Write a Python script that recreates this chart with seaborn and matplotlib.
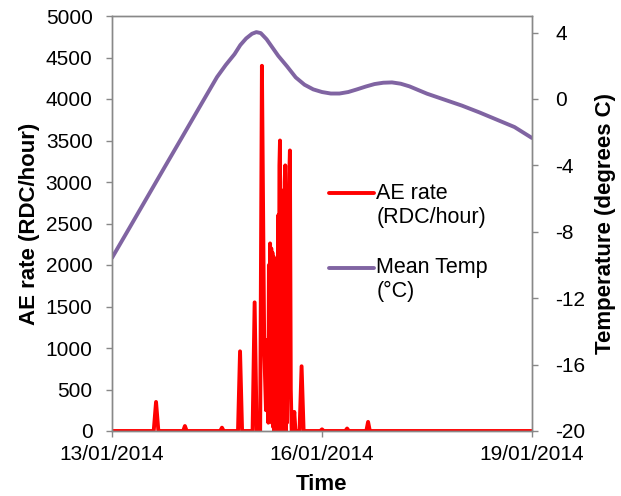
import numpy as np
import pandas as pd
import matplotlib
matplotlib.use("Agg")
import matplotlib.pyplot as plt
import matplotlib.dates as mdates
import seaborn as sns

# AE rate readings: hours after 13/01/2014 00:00 and rate (RDC/hour)
ae_hours = [0, 14.3, 15.1, 15.9, 24.4, 25.0, 25.6, 37.1, 37.7, 38.3,
            43.2, 43.9, 44.6, 48.2, 48.9, 49.6, 50.8, 51.4, 52.2, 52.8,
            53.4, 53.6, 53.8, 54.0, 54.2, 54.4, 54.6, 54.8, 55.0, 55.2,
            55.4, 55.6, 55.8, 56.0, 56.2, 56.4, 56.6, 56.8, 57.0, 57.2,
            57.4, 57.6, 57.8, 58.0, 58.2, 58.4, 58.6, 58.8, 59.0, 59.2,
            59.4, 59.6, 59.8, 60.0, 60.2, 60.4, 60.6, 60.8, 61.0, 61.3,
            61.6, 62.0, 62.5, 62.9, 64.3, 65.0, 65.7, 71.4, 72.0, 72.6,
            80.0, 80.6, 81.2, 87.2, 87.8, 88.4, 144]
ae_rate = [0, 0, 350, 0, 0, 60, 0, 0, 40, 0,
           0, 960, 0, 0, 1550, 0, 0, 4400, 980, 250,
           1100, 100, 2000, 300, 2260, 200, 2200, 100, 2150, 50,
           2100, 0, 1950, 0, 1880, 0, 1900, 0, 2600, 0,
           3200, 3500, 0, 2600, 0, 2700, 0, 2900, 0, 3000,
           3200, 0, 2400, 100, 2000, 640, 2600, 3100, 3380, 500,
           0, 0, 230, 0, 0, 780, 0, 0, 20, 0,
           0, 30, 0, 0, 110, 0, 0]

# Mean temperature (degrees C)
temp_hours = [0, 6, 12, 18, 24, 30, 36, 39, 42, 44, 46, 48, 49.5, 51, 53,
              55, 57, 60, 63, 66, 69, 72, 75, 78, 81, 84, 87, 90, 93, 96,
              99, 102, 108, 114, 120, 126, 132, 138, 144]
mean_temp = [-9.57, -7.76, -5.94, -4.12, -2.31, -0.49, 1.32, 2.05, 2.70,
             3.25, 3.65, 3.93, 4.03, 3.97, 3.60, 3.10, 2.60, 1.97, 1.30,
             0.86, 0.58, 0.42, 0.33, 0.33, 0.42, 0.58, 0.75, 0.90, 0.98,
             1.00, 0.92, 0.76, 0.32, -0.04, -0.40, -0.81, -1.25, -1.69,
             -2.35]

start = pd.Timestamp("2014-01-13")
ae_df = pd.DataFrame({"Time": start + pd.to_timedelta(ae_hours, unit="h"),
                      "rate": ae_rate})
temp_df = pd.DataFrame({"Time": start + pd.to_timedelta(temp_hours, unit="h"),
                        "temp": mean_temp})

sns.set_style("white")
plt.rcParams["font.family"] = ["Liberation Sans", "DejaVu Sans"]
plt.rcParams["axes.unicode_minus"] = False
plt.rcParams["path.simplify"] = False
plt.rcParams["text.color"] = "black"
plt.rcParams["xtick.color"] = "black"
plt.rcParams["ytick.color"] = "black"
plt.rcParams["axes.labelcolor"] = "black"

fig = plt.figure(figsize=(6.21, 4.96), dpi=100)
ax = fig.add_axes([112 / 621, 1 - 431 / 496, 420 / 621, 415 / 496])
ax2 = ax.twinx()

sns.lineplot(data=ae_df, x="Time", y="rate", ax=ax, color="#ff0000",
             linewidth=2.8, label="AE rate\n(RDC/hour)", legend=False)
sns.lineplot(data=temp_df, x="Time", y="temp", ax=ax2, color="#8064a2",
             linewidth=2.8, label="Mean Temp\n(°C)", legend=False)

grey = "#888888"
for a in (ax, ax2):
    for s in a.spines.values():
        s.set_color(grey)
        s.set_linewidth(1.0)

ax.set_ylim(0, 5000)
ax.set_yticks(np.arange(0, 5001, 500))
ax2.set_ylim(-20, 5)
ax2.set_yticks(np.arange(-20, 5, 4))
ax.set_xlim(pd.Timestamp("2014-01-13"), pd.Timestamp("2014-01-19"))
ax.set_xticks([pd.Timestamp("2014-01-13"), pd.Timestamp("2014-01-16"),
               pd.Timestamp("2014-01-19")])
ax.xaxis.set_major_formatter(mdates.DateFormatter("%d/%m/%Y"))

ax.tick_params(axis="y", direction="out", length=4, width=1, color=grey,
               labelsize=15, pad=10, left=True)
ax.tick_params(axis="x", direction="out", length=4, width=1, color=grey,
               labelsize=15, pad=6, bottom=True)
ax2.tick_params(axis="y", direction="out", length=4, width=1, color=grey,
                labelsize=15, pad=13, right=True)

ax.set_xlabel("Time", fontsize=16, fontweight="bold", labelpad=7)
ax.set_ylabel("AE rate (RDC/hour)", fontsize=16, fontweight="bold", labelpad=4)
ax2.set_ylabel("Temperature (degrees C)", fontsize=16, fontweight="bold",
               labelpad=7)

handles = ax.get_lines()[:1] + ax2.get_lines()[:1]
leg = ax.legend(handles, [h.get_label() for h in handles],
                loc="upper left", bbox_to_anchor=(0.47, 0.645),
                frameon=False, fontsize=15.5, handlelength=2.1,
                handletextpad=0.1, labelspacing=1.35)
# put the handle next to the first line of each label
for ln in leg.get_lines():
    ln.set_ydata(np.asarray(ln.get_ydata()) + 9)

fig.savefig("out.png", dpi=100)
